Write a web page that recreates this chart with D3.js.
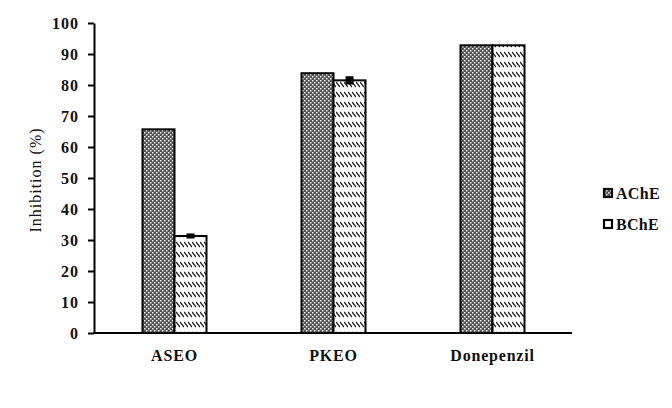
<!DOCTYPE html>
<html><head><meta charset="utf-8">
<script src="https://cdn.jsdelivr.net/npm/d3@7"></script>
<style>body{margin:0;background:#fff}svg{display:block}</style>
</head><body>
<svg id="c" width="672" height="408"></svg>
<script>
const categories = ["ASEO", "PKEO", "Donepenzil"];
const seriesNames = ["AChE", "BChE"];
const ache = [65.7, 83.8, 92.8];
const bche = [31.3, 81.5, 92.8];
const bcheErr = [0.5, 1.0, 0];
const yTicks = [0,10,20,30,40,50,60,70,80,90,100];

const svg = d3.select("#c");
const font = "'Liberation Serif', 'Times New Roman', serif";
const defs = svg.append("defs");
// AChE: dark gray with white dots
const p1 = defs.append("pattern").attr("id","pA").attr("patternUnits","userSpaceOnUse").attr("width",4).attr("height",4);
p1.append("rect").attr("width",4).attr("height",4).attr("fill","#555");
p1.append("rect").attr("x",0).attr("y",0).attr("width",1.5).attr("height",1.5).attr("fill","#eee");
p1.append("rect").attr("x",2).attr("y",2).attr("width",1.5).attr("height",1.5).attr("fill","#eee");
// BChE: white with short backslash strokes in rows
const p2 = defs.append("pattern").attr("id","pB").attr("patternUnits","userSpaceOnUse").attr("width",4).attr("height",10);
p2.append("rect").attr("width",4).attr("height",10).attr("fill","#fff");
p2.append("line").attr("x1",0).attr("y1",2).attr("x2",4).attr("y2",7).attr("stroke","#222").attr("stroke-width",1.4);

const x0 = 95, x1 = 572, yTop = 23, yBot = 333;
const x = d3.scaleBand().domain(categories).range([x0, x1]);
const y = d3.scaleLinear().domain([0,100]).range([yBot, yTop]);
const barW = 32;
const vals = [ache, bche];
const fills = ["url(#pA)", "url(#pB)"];
const legendFills = ["url(#pA)", "#fff"];

const g = svg.append("g");
seriesNames.forEach((s, si) => {
  g.selectAll(".b"+si).data(categories).enter().append("rect")
    .attr("x", d => x(d) + x.bandwidth()/2 - barW + si*barW)
    .attr("y", (d,i) => y(vals[si][i]))
    .attr("width", barW)
    .attr("height", (d,i) => y(0) - y(vals[si][i]))
    .attr("fill", fills[si])
    .attr("stroke", "#000").attr("stroke-width", 2);
});
// error bars on BChE
categories.forEach((c, i) => {
  if (bcheErr[i] <= 0) return;
  const cx = x(c) + x.bandwidth()/2 + barW/2;
  const yt = y(bche[i] + bcheErr[i]), yb = y(bche[i] - bcheErr[i]);
  g.append("line").attr("x1",cx).attr("x2",cx).attr("y1",yt).attr("y2",yb).attr("stroke","#000").attr("stroke-width",2);
  g.append("rect").attr("x",cx-4).attr("y",yt-1).attr("width",8).attr("height",Math.max(3,yb-yt+2)).attr("fill","#000");
});

// Y axis
const yAxis = d3.axisLeft(y).tickValues(yTicks).tickSize(6).tickSizeOuter(0).tickPadding(9);
const ya = svg.append("g").attr("transform", `translate(${x0-1},0)`).call(yAxis);
ya.select(".domain").attr("stroke","#000").attr("stroke-width",2);
ya.selectAll(".tick line").attr("stroke","#000").attr("stroke-width",2);
ya.selectAll(".tick text").attr("font-family",font).attr("font-size",16).attr("font-weight","bold")
  .attr("letter-spacing",1).attr("fill","#111");

// X axis
const xAxis = d3.axisBottom(x).tickSize(0).tickPadding(17);
const xa = svg.append("g").attr("transform", `translate(0,${yBot})`).call(xAxis);
xa.select(".domain").attr("stroke","#000").attr("stroke-width",2).attr("d", `M${x0-2},0H${x1}`);
xa.selectAll(".tick text").attr("font-family",font).attr("font-size",16).attr("font-weight","bold")
  .attr("letter-spacing",0.8).attr("fill","#111");

// Y label
svg.append("text").attr("transform","translate(41,180) rotate(-90)").attr("text-anchor","middle")
  .attr("font-family",font).attr("font-size",16).attr("letter-spacing",1).attr("fill","#111").text("Inhibition (%)");

// Legend
seriesNames.forEach((s, i) => {
  const ly = 189 + i*31;
  svg.append("rect").attr("x",604).attr("y",ly).attr("width",8).attr("height",8)
    .attr("fill", legendFills[i]).attr("stroke","#000").attr("stroke-width",2.2);
  svg.append("text").attr("x",616).attr("y",ly+10).attr("font-family",font).attr("font-size",16)
    .attr("font-weight","bold").attr("letter-spacing",0.3).attr("fill","#111").text(s);
});
</script>
</body></html>
